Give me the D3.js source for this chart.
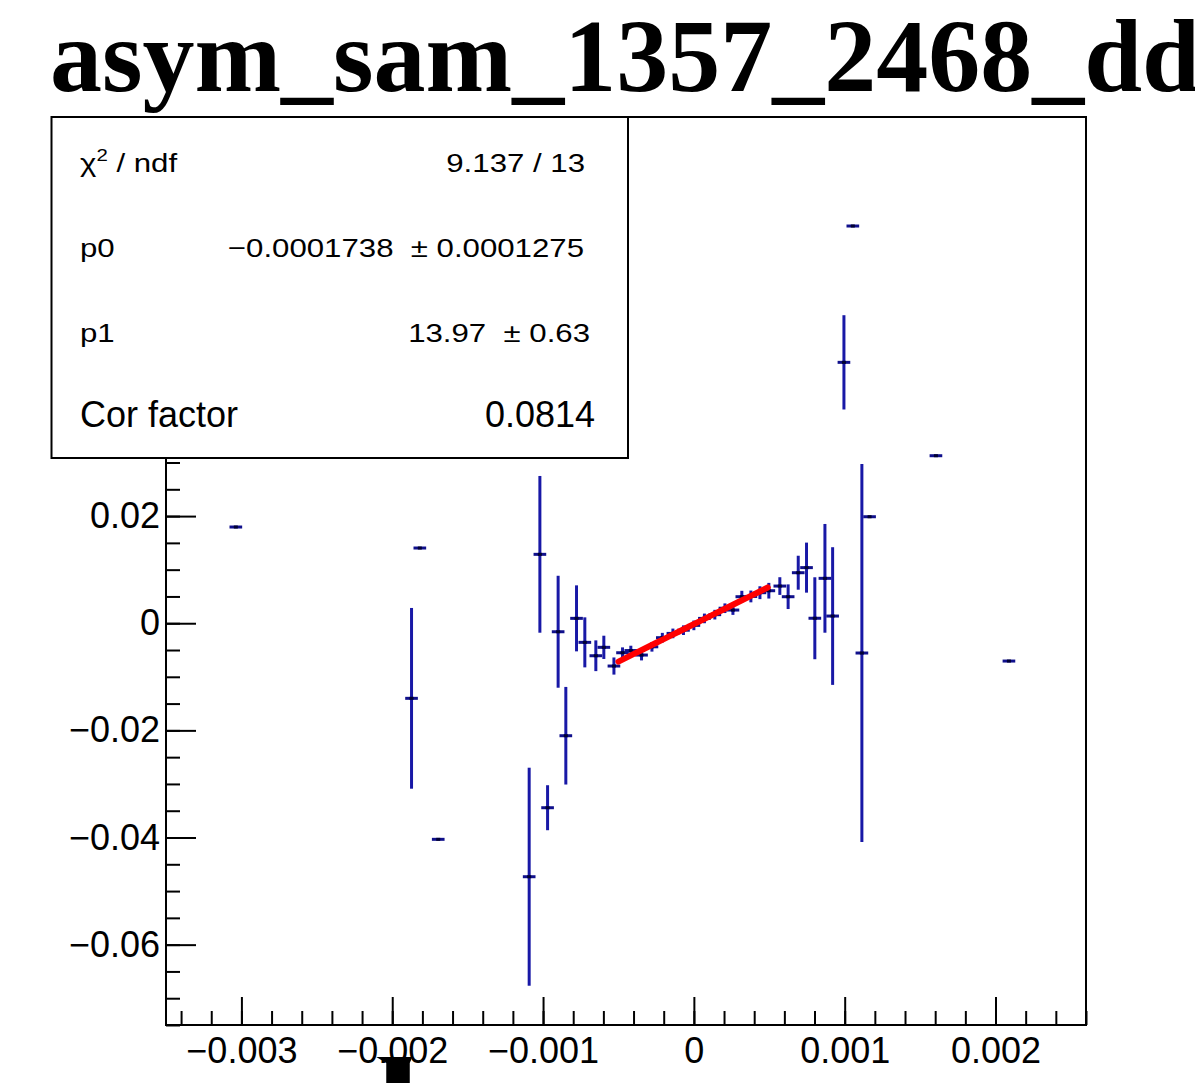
<!DOCTYPE html>
<html><head><meta charset="utf-8">
<script src="https://cdn.jsdelivr.net/npm/d3@7"></script>
<style>html,body{margin:0;padding:0;background:#fff;} svg{display:block;}</style>
</head><body><div id="chart"></div>
<script>
// ---------------- data ----------------
const titleText = "asym_sam_1357_2468_dd";
const xValues = [
  -0.003037, -0.001872, -0.001817, -0.001695, -0.001092, -0.001021, -0.00097, -0.0009, -0.000849, -0.000778, -0.000723, -0.00065, -0.000597, -0.00053,
  -0.000473, -0.000418, -0.000347, -0.000278, -0.000209, -0.000139, -0.000069, 0.0, 0.00007, 0.000139, 0.000206, 0.000259, 0.000318, 0.000378, 0.000438, 0.000497,
  0.00057, 0.000625, 0.000692, 0.000747, 0.000802, 0.000869, 0.00092, 0.000995, 0.001054, 0.001114, 0.001165, 0.001605, 0.002089
];
const yValues = [
  0.01796, -0.01402, 0.01404, -0.04034, -0.04732, 0.01286, -0.03444, -0.00159, -0.021, 0.00091, -0.00357, -0.00607, -0.0045, -0.00799,
  -0.00551, -0.0051, -0.00594, -0.0044, -0.0027, -0.0019, -0.0013, -0.0004, 0.0009, 0.0016, 0.0028, 0.00246, 0.00495, 0.005, 0.0057, 0.00607,
  0.00694, 0.00495, 0.00943, 0.01038, 0.00093, 0.00838, 0.00134, 0.0487, 0.07415, -0.00556, 0.01988, 0.03127, -0.00706
];
const yErrors = [
  0, 0.01687, 0, 0, 0.02035, 0.01463, 0.0042, 0.01045, 0.00911, 0.00616, 0.00467, 0.00287, 0.00217, 0.0016,
  0.001, 0.0009, 0.001, 0.0009, 0.0009, 0.0009, 0.0009, 0.0009, 0.0009, 0.0009, 0.0009, 0.0009, 0.0011, 0.0011, 0.0012, 0.00146,
  0.00165, 0.0023, 0.00317, 0.00467, 0.00765, 0.01015, 0.01285, 0.0088, 0, 0.03528, 0, 0, 0
];
const xError = 0.000042;
const xDomain = [-0.0035, 0.0026];
const yDomain = [-0.075, 0.0945];
const xTickValues = [-0.003, -0.002, -0.001, 0, 0.001, 0.002];
const xTickLabels = ["\u22120.003", "\u22120.002", "\u22120.001", "0", "0.001", "0.002"];
const yTickValues = [-0.06, -0.04, -0.02, 0, 0.02];
const yTickLabels = ["\u22120.06", "\u22120.04", "\u22120.02", "0", "0.02"];
const statLabels = ["p0", "p1", "Cor factor"];
const statValues = ["9.137 / 13", "\u22120.0001738  \u00b1 0.0001275", "13.97  \u00b1 0.63", "0.0814"];
const fitP0 = -0.0001738, fitP1 = 13.97;
const fitRange = [-0.0005, 0.00049];

// ---------------- layout ----------------
const W = 1195, H = 1083;
const frame = {left: 166, right: 1086, top: 117, bottom: 1025};
const svg = d3.select("#chart").append("svg").attr("width", W).attr("height", H)
  .style("font-family", "'Liberation Sans', Arial, sans-serif");
svg.append("rect").attr("width", W).attr("height", H).attr("fill", "#fff");

const x = d3.scaleLinear().domain(xDomain).range([frame.left, frame.right]);
const y = d3.scaleLinear().domain(yDomain).range([frame.bottom, frame.top]);

// title
svg.append("text").attr("x", 50).attr("y", 91)
  .attr("font-family", "'Liberation Serif', 'Times New Roman', serif")
  .attr("font-weight", "bold").attr("font-size", 104).attr("fill", "#000")
  .text(titleText);

// clip
svg.append("clipPath").attr("id", "clip").append("rect")
  .attr("x", frame.left).attr("y", frame.top)
  .attr("width", frame.right - frame.left).attr("height", frame.bottom - frame.top);

// axes
function minorTicks(domain, step) {
  const out = [];
  const start = Math.ceil(domain[0] / step - 1e-9);
  const end = Math.floor(domain[1] / step + 1e-9);
  for (let k = start; k <= end; k++) out.push(+(k * step).toFixed(10));
  return out;
}
const xMinor = minorTicks(xDomain, 0.0002);
const yMinor = minorTicks(yDomain, 0.005);

const gxMinor = svg.append("g").attr("transform", `translate(0,${frame.bottom})`)
  .call(d3.axisBottom(x).tickValues(xMinor).tickSizeInner(-14).tickSizeOuter(0).tickFormat(""));
const gx = svg.append("g").attr("transform", `translate(0,${frame.bottom})`)
  .call(d3.axisBottom(x).tickValues(xTickValues).tickSizeInner(-28).tickSizeOuter(0)
    .tickPadding(12).tickFormat((d, i) => xTickLabels[i]));
const gyMinor = svg.append("g").attr("transform", `translate(${frame.left},0)`)
  .call(d3.axisLeft(y).tickValues(yMinor).tickSizeInner(-14).tickSizeOuter(0).tickFormat(""));
const gy = svg.append("g").attr("transform", `translate(${frame.left},0)`)
  .call(d3.axisLeft(y).tickValues(yTickValues).tickSizeInner(-30).tickSizeOuter(0)
    .tickPadding(6).tickFormat((d, i) => yTickLabels[i]));
[gxMinor, gx, gyMinor, gy].forEach(g => {
  g.select(".domain").remove();
  g.selectAll(".tick line").attr("stroke", "#000").attr("stroke-width", 2);
  g.selectAll(".tick text").attr("font-size", 36).attr("fill", "#000")
    .attr("font-family", "'Liberation Sans', Arial, sans-serif");
});

// frame
svg.append("rect").attr("x", frame.left).attr("y", frame.top)
  .attr("width", frame.right - frame.left).attr("height", frame.bottom - frame.top)
  .attr("fill", "none").attr("stroke", "#000").attr("stroke-width", 2);

// data
const pts = xValues.map((v, i) => ({x: v, y: yValues[i], e: yErrors[i]}));
const gd = svg.append("g").attr("clip-path", "url(#clip)");
gd.selectAll("line.v").data(pts.filter(d => d.e > 0)).join("line").attr("class", "v")
  .attr("x1", d => x(d.x)).attr("x2", d => x(d.x))
  .attr("y1", d => y(d.y + d.e)).attr("y2", d => y(d.y - d.e))
  .attr("stroke", "#1818a6").attr("stroke-width", 3);
gd.selectAll("line.h").data(pts).join("line").attr("class", "h")
  .attr("x1", d => x(d.x - xError)).attr("x2", d => x(d.x + xError))
  .attr("y1", d => y(d.y)).attr("y2", d => y(d.y))
  .attr("stroke", "#10108c").attr("stroke-width", 3);
gd.selectAll("rect.m").data(pts).join("rect").attr("class", "m")
  .attr("x", d => x(d.x) - 2).attr("y", d => y(d.y) - 1.5)
  .attr("width", 4).attr("height", 3).attr("fill", "#000033");

// fit line
const fitXs = d3.range(0, 21).map(k => fitRange[0] + (fitRange[1] - fitRange[0]) * k / 20);
gd.append("path").datum(fitXs)
  .attr("d", d3.line().x(d => x(d)).y(d => y(fitP0 + fitP1 * d)))
  .attr("fill", "none").attr("stroke", "#ff0000").attr("stroke-width", 6)
  .attr("stroke-linecap", "round");

// stats box
const box = {x: 51.5, y: 117, w: 576.5, h: 341};
svg.append("rect").attr("x", box.x).attr("y", box.y).attr("width", box.w).attr("height", box.h)
  .attr("fill", "#fff").attr("stroke", "#000").attr("stroke-width", 2);
const rowY = [171.5, 256.5, 341.5, 427];
const rowRight = [585, 584, 590, 595];
const sx = 1.2;
// row 1 label with chi^2
const t1 = svg.append("text").attr("transform", `translate(80,${rowY[0]}) scale(${sx},1)`)
  .attr("font-size", 26).attr("fill", "#000");
t1.append("tspan").text("\u03c7");
t1.append("tspan").attr("dy", -11).attr("font-size", 17).text("2");
t1.append("tspan").attr("dy", 11).style("white-space", "pre").text(" / ndf");
statLabels.forEach((lab, i) => {
  const big = i === 2;
  svg.append("text")
    .attr("transform", `translate(80,${rowY[i + 1]}) scale(${big ? 1 : sx},1)`)
    .attr("font-size", big ? 36 : 26).attr("fill", "#000").text(lab);
});
statValues.forEach((v, i) => {
  const big = i === 3;
  svg.append("text")
    .attr("transform", `translate(${rowRight[i]},${rowY[i]}) scale(${big ? 1 : sx},1)`)
    .attr("text-anchor", "end").style("white-space", "pre")
    .attr("font-size", big ? 36 : 26).attr("fill", "#000").text(v);
});

// small black artifact below the x axis (present in the original picture)
const ax = x(-0.00196);
svg.append("path")
  .attr("d", `M${ax - 22},1057 L${ax + 14},1057 L${ax + 11.5},1063 L${ax + 11.5},1083 L${ax - 12},1083 L${ax - 12},1063 Z`)
  .attr("fill", "#000");
</script>
</body></html>
